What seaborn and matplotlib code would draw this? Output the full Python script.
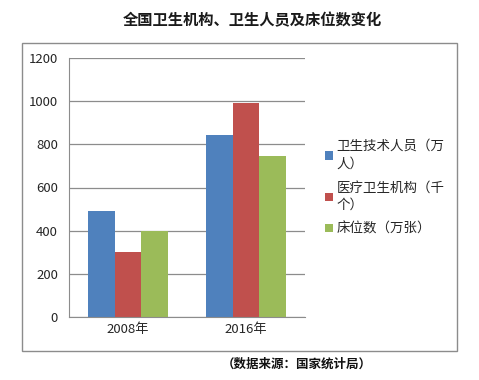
import pandas as pd
import matplotlib
matplotlib.use("Agg")
import matplotlib.pyplot as plt
from matplotlib.patches import Rectangle
import seaborn as sns

# ================================
# DATA
# ================================
years = ["2008年", "2016年"]
series = ["卫生技术人员（万\n人）", "医疗卫生机构（千\n个）", "床位数（万张）"]
tech_staff = [490, 845]
institutions = [300, 990]
beds = [400, 745]
colors = ["#4F81BD", "#C0504D", "#9BBB59"]

df = pd.DataFrame({
    "year": years * 3,
    "series": [series[0]] * 2 + [series[1]] * 2 + [series[2]] * 2,
    "value": tech_staff + institutions + beds,
})

# ================================
# STYLE
# ================================
sns.set_style("white")
plt.rcParams['font.family'] = ['Noto Sans CJK SC', 'DejaVu Sans']

fig = plt.figure(figsize=(4.79, 3.80), dpi=100)
ax = fig.add_axes([69 / 479, 1 - 317 / 380, (305 - 69) / 479, (317 - 58) / 380])

sns.barplot(data=df, x="year", y="value", hue="series", palette=colors,
            width=0.675, saturation=1, linewidth=0, ax=ax, legend=True)

ax.set_ylim(0, 1200)
ax.set_yticks(range(0, 1201, 200))
ax.set_xlim(-0.5, 1.5)
ax.yaxis.grid(True, color="#8c8c8c", linewidth=0.9)
ax.set_axisbelow(True)
ax.set_xlabel("")
ax.set_ylabel("")
for s in ["top", "right"]:
    ax.spines[s].set_visible(False)
ax.spines["left"].set_color("#8c8c8c")
ax.spines["bottom"].set_color("#8c8c8c")
ax.tick_params(axis="y", length=4, color="#8c8c8c", labelsize=9.5, pad=4)
ax.tick_params(axis="x", which="major", length=0, labelsize=9.5, pad=4)
ax.set_xticks([-0.5, 0.5, 1.5], minor=True)
ax.tick_params(axis="x", which="minor", length=4, color="#8c8c8c")

# legend
handles, labels = ax.get_legend_handles_labels()
leg = ax.legend(handles, labels, loc="upper left", bbox_to_anchor=(325 / 479, 1 - 139 / 380),
                bbox_transform=fig.transFigure, frameon=False, fontsize=9.7,
                handlelength=0.6, handleheight=0.6, handletextpad=0.25,
                labelspacing=0.75, borderaxespad=0, borderpad=0)
for t in leg.get_texts():
    t.set_linespacing(1.3)

# frame box around the chart area
fig.patches.append(Rectangle((22 / 479, 1 - 351 / 380), (457 - 22) / 479, (351 - 43) / 380,
                             transform=fig.transFigure, fill=False,
                             edgecolor="#8c8c8c", linewidth=1))

fig.text(252 / 479, 1 - 20 / 380, "全国卫生机构、卫生人员及床位数变化",
         ha="center", va="center", fontsize=11, fontweight="bold", color="#1a1a1a")
fig.text(297 / 479, 1 - 364 / 380, "（数据来源：国家统计局）",
         ha="center", va="center", fontsize=9, fontweight="bold", color="#111111")

fig.savefig("out.png", dpi=100)
